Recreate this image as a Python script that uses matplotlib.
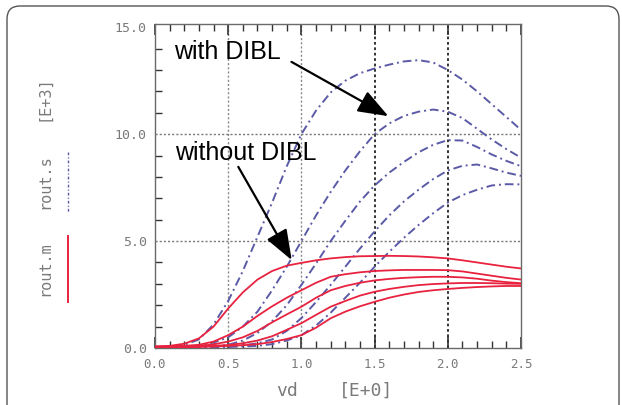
import matplotlib
matplotlib.use("Agg")
import matplotlib.pyplot as plt
from matplotlib.patches import FancyBboxPatch
from matplotlib.ticker import MultipleLocator

# drain voltage sweep (V)
vd = [0.0, 0.1, 0.2, 0.3, 0.4, 0.5, 0.6, 0.7, 0.8, 0.9, 1.0, 1.1, 1.2,
      1.3, 1.4, 1.5, 1.6, 1.7, 1.8, 1.9, 2.0, 2.1, 2.2, 2.3, 2.4, 2.5]

# rout.m  (without DIBL), units of 1e3
rout_m_1 = [0.08, 0.10, 0.20, 0.45, 1.00, 1.85, 2.60, 3.20, 3.60, 3.85, 3.98, 4.10, 4.19,
            4.25, 4.29, 4.30, 4.31, 4.30, 4.28, 4.24, 4.19, 4.10, 4.00, 3.90, 3.80, 3.72]
rout_m_2 = [0.05, 0.07, 0.10, 0.15, 0.30, 0.60, 1.00, 1.50, 1.95, 2.35, 2.70, 3.05, 3.33,
            3.45, 3.54, 3.60, 3.63, 3.65, 3.65, 3.65, 3.64, 3.58, 3.48, 3.38, 3.28, 3.20]
rout_m_3 = [0.04, 0.05, 0.07, 0.10, 0.17, 0.30, 0.50, 0.80, 1.20, 1.57, 1.93, 2.35, 2.70,
            2.90, 3.05, 3.16, 3.23, 3.28, 3.31, 3.33, 3.33, 3.30, 3.24, 3.15, 3.08, 3.03]
rout_m_4 = [0.03, 0.04, 0.05, 0.07, 0.10, 0.14, 0.22, 0.35, 0.55, 0.85, 1.16, 1.55, 1.93,
            2.20, 2.45, 2.63, 2.76, 2.86, 2.94, 2.99, 3.02, 3.04, 3.04, 3.03, 3.01, 3.00]
rout_m_5 = [0.02, 0.03, 0.04, 0.05, 0.07, 0.10, 0.13, 0.18, 0.28, 0.42, 0.60, 0.95, 1.39,
            1.70, 1.95, 2.16, 2.35, 2.50, 2.62, 2.70, 2.76, 2.81, 2.85, 2.88, 2.90, 2.90]

# rout.s  (with DIBL), units of 1e3
rout_s_1 = [0.05, 0.07, 0.15, 0.40, 1.10, 2.20, 3.60, 5.20, 6.80, 8.50, 10.0, 11.1, 11.95,
            12.5, 12.85, 13.07, 13.25, 13.4, 13.46, 13.35, 13.0, 12.55, 12.0, 11.4, 10.8, 10.2]
rout_s_2 = [0.03, 0.04, 0.06, 0.10, 0.25, 0.50, 1.00, 1.70, 2.70, 3.80, 5.00, 6.20, 7.30,
            8.30, 9.20, 10.0, 10.5, 10.85, 11.05, 11.15, 11.05, 10.75, 10.25, 9.75, 9.30, 8.90]
rout_s_3 = [0.02, 0.03, 0.04, 0.05, 0.08, 0.15, 0.35, 0.70, 1.25, 2.00, 2.95, 3.95, 5.00,
            5.95, 6.85, 7.60, 8.20, 8.70, 9.15, 9.50, 9.72, 9.70, 9.40, 9.05, 8.75, 8.50]
rout_s_4 = [0.02, 0.02, 0.03, 0.03, 0.05, 0.07, 0.12, 0.22, 0.40, 0.80, 1.40, 2.15, 2.95,
            3.80, 4.65, 5.45, 6.20, 6.85, 7.40, 7.90, 8.30, 8.52, 8.58, 8.40, 8.20, 8.05]
rout_s_5 = [0.02, 0.02, 0.03, 0.03, 0.04, 0.05, 0.07, 0.10, 0.18, 0.35, 0.60, 1.05, 1.65,
            2.35, 3.05, 3.80, 4.50, 5.15, 5.75, 6.30, 6.80, 7.15, 7.40, 7.60, 7.66, 7.65]

rout_m = [rout_m_1, rout_m_2, rout_m_3, rout_m_4, rout_m_5]
rout_s = [rout_s_1, rout_s_2, rout_s_3, rout_s_4, rout_s_5]

x_ticks = [0.0, 0.5, 1.0, 1.5, 2.0, 2.5]
x_labels = ["0.0", "0.5", "1.0", "1.5", "2.0", "2.5"]
y_ticks = [0.0, 5.0, 10.0, 15.0]
y_labels = ["0.0", "5.0", "10.0", "15.0"]

RED = "#e8223f"
BLUE = "#5b5aa6"
GRAY = "#7a7a7a"
MONO = "DejaVu Sans Mono"
DASHDOT = (0, (4.5, 2, 1, 2))

fig = plt.figure(figsize=(6.22, 4.05), dpi=100)

# background layer in pixel units for the frame and side labels
bg = fig.add_axes([0, 0, 1, 1], zorder=0)
bg.set_xlim(0, 622)
bg.set_ylim(0, 405)
bg.axis("off")
bg.add_patch(FancyBboxPatch((7, -30), 612, 429, boxstyle="round,pad=0,rounding_size=13",
                            fc="white", ec="#555555", lw=1.0))

bg.text(44, 405 - 98, "[E+3]", rotation=90, ha="center", va="center",
        family=MONO, fontsize=11, color=GRAY)
bg.text(45, 405 - 182, "rout.s", rotation=90, ha="center", va="center",
        family=MONO, fontsize=11, color=GRAY)
bg.text(45, 405 - 269, "rout.m", rotation=90, ha="center", va="center",
        family=MONO, fontsize=11, color=GRAY)
bg.plot([68, 68], [405 - 152, 405 - 212], color=BLUE, lw=1.0, linestyle=(0, (2, 1.5, 0.8, 1.5)))
bg.plot([68, 68], [405 - 236, 405 - 302], color=RED, lw=1.4)
bg.text(287, 405 - 391, "vd", ha="center", va="center", family=MONO, fontsize=13, color=GRAY)
bg.text(366, 405 - 391, "[E+0]", ha="center", va="center", family=MONO, fontsize=13, color=GRAY)

ax = fig.add_axes([155 / 622, 57 / 405, 366 / 622, 324 / 405], zorder=1)
ax.patch.set_alpha(0)

for ys in rout_s:
    ax.plot(vd, ys, color=BLUE, lw=1.4, linestyle=DASHDOT, zorder=3)
for ys in rout_m:
    ax.plot(vd, ys, color=RED, lw=1.3, zorder=4)

ax.set_xlim(0, 2.5)
ax.set_ylim(0, 15.15)
ax.set_xticks(x_ticks)
ax.set_xticklabels(x_labels, family=MONO, fontsize=9, color=GRAY)
ax.set_yticks(y_ticks)
ax.set_yticklabels(y_labels, family=MONO, fontsize=9.5, color=GRAY)
ax.xaxis.set_minor_locator(MultipleLocator(0.1))
ax.yaxis.set_minor_locator(MultipleLocator(1.0))
ax.tick_params(axis="x", which="both", direction="in", top=True, bottom=True,
               color="#333333", pad=7)
ax.tick_params(axis="x", which="major", length=8, width=1.2)
ax.tick_params(axis="x", which="minor", length=5, width=1.0)
ax.tick_params(axis="y", which="both", direction="in", left=True, right=False,
               color="#333333", pad=6)
ax.tick_params(axis="y", which="major", length=0)
ax.tick_params(axis="y", which="minor", length=5, width=1.0)
for s in ax.spines.values():
    s.set_color("#6a6a6a")
    s.set_linewidth(1.0)

# dotted grid, the right-hand verticals are darker
for xv in x_ticks[1:-1]:
    dark = xv >= 1.5
    ax.axvline(xv, color="#222222" if dark else "#888888", lw=1.3 if dark else 1.0,
               linestyle=(0, (1.5, 1.5)), zorder=1)
for yv in y_ticks[1:-1]:
    ax.axhline(yv, color="#777777", lw=1.0, linestyle=(0, (1.5, 1.5)), zorder=1)

ax.text(0.13, 13.85, "with DIBL", fontsize=18, family="Liberation Sans",
        ha="left", va="center", zorder=5)
ax.text(0.14, 9.1, "without DIBL", fontsize=18, family="Liberation Sans",
        ha="left", va="center", zorder=5)
arrow = dict(arrowstyle="-|>,head_length=0.75,head_width=0.28", mutation_scale=25,
             color="black", lw=1.6, shrinkA=0, shrinkB=0)
ax.annotate("", xy=(1.594, 10.84), xytext=(0.932, 13.38), arrowprops=arrow, zorder=6)
ax.annotate("", xy=(0.934, 4.11), xytext=(0.569, 8.47), arrowprops=arrow, zorder=6)

fig.savefig("out.png", dpi=100)
